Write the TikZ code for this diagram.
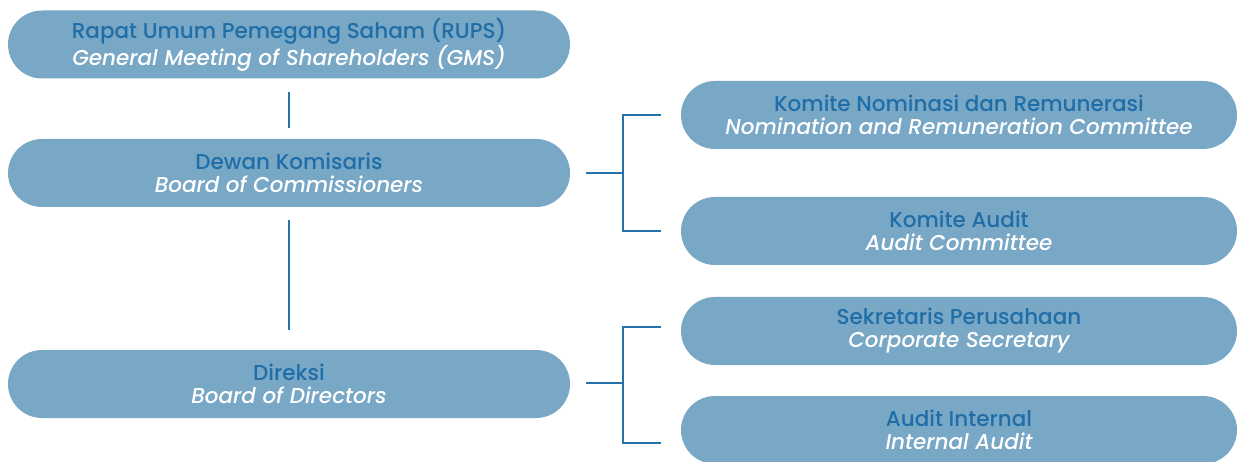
\documentclass[tikz,border=0pt]{standalone}
\usepackage{fontspec}
\setmainfont{Poppins}[UprightFont=* Medium, ItalicFont=* Medium Italic]
\usepackage{tikz}
\usetikzlibrary{positioning}

\definecolor{boxblue}{HTML}{79A7C6}
\definecolor{linkblue}{HTML}{2472A8}
\definecolor{headblue}{HTML}{1F6EA8}

\newcommand{\orglabel}[2]{{\color{headblue}#1}\\{\color{white}\itshape #2}}

\begin{document}
\begin{tikzpicture}[x=1pt, y=-1pt,
  unit/.style={rectangle, rounded corners=34pt, fill=boxblue, minimum height=68pt,
    align=center, inner sep=0pt, font=\fontsize{21.5}{23}\selectfont},
  lunit/.style={unit, minimum width=562pt},
  runit/.style={unit, minimum width=556pt},
  link/.style={draw=linkblue, line width=2pt}]
\useasboundingbox (0,0) rectangle (1237,462);

\node[lunit] (rups) at (289,44.5) {\orglabel{Rapat Umum Pemegang Saham (RUPS)}{General Meeting of Shareholders (GMS)}};
\node[lunit] (boc) at (289,173) {\orglabel{Dewan Komisaris}{Board of Commissioners}};
\node[lunit] (bod) at (289,384) {\orglabel{Direksi}{Board of Directors}};

\node[runit] (nrc) at (959,115) {\orglabel{Komite Nominasi dan Remunerasi}{Nomination and Remuneration Committee}};
\node[runit] (ac) at (959,231) {\orglabel{Komite Audit}{Audit Committee}};
\node[runit] (cs) at (959,331) {\orglabel{Sekretaris Perusahaan}{Corporate Secretary}};
\node[runit] (ia) at (959,430) {\orglabel{Audit Internal}{Internal Audit}};

\coordinate (bocj) at (623,173);
\coordinate (bodj) at (623,383);
\coordinate (csj) at (661,327);
\coordinate (iaj) at (661,443);

\draw[link, shorten <=13pt, shorten >=11pt] (rups) -- (boc);
\draw[link, shorten <=13pt, shorten >=20pt] (boc) -- (bod);

\draw[link, shorten <=16pt] (boc.east) -- (bocj);
\draw[link, shorten <=20pt] (nrc.west) -| (bocj);
\draw[link, shorten <=20pt] (ac.west) -| (bocj);

\draw[link, shorten <=16pt] (bod.east |- bodj) -- (bodj);
\draw[link] (csj) -| (bodj);
\draw[link] (iaj) -| (bodj);
\end{tikzpicture}
\end{document}
